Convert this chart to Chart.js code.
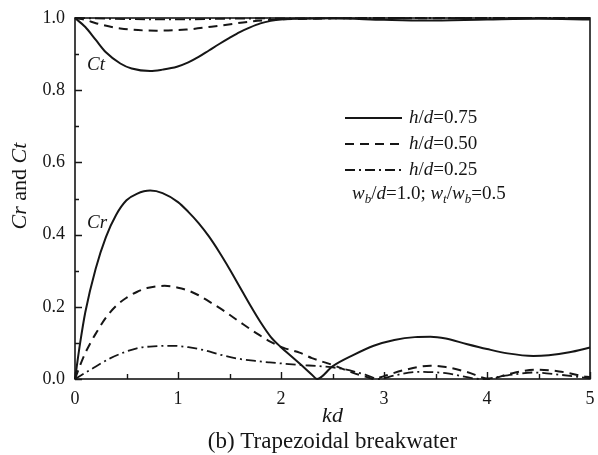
<!DOCTYPE html>
<html>
<head>
<meta charset="utf-8">
<script src="https://cdn.jsdelivr.net/npm/chart.js@4.4.1/dist/chart.umd.min.js"></script>
<style>
  html, body { margin: 0; padding: 0; background: #ffffff; }
  #wrap { width: 598px; height: 455px; position: relative; }
</style>
</head>
<body>
<div id="wrap"><canvas id="c" width="598" height="455"></canvas></div>
<script>
// Reflection coefficient Cr versus kd
const crKd075  = [0, 0.05, 0.1, 0.2, 0.3, 0.4, 0.5, 0.6, 0.73, 0.85, 1.0, 1.1, 1.2, 1.3, 1.4, 1.5, 1.6, 1.7, 1.8, 1.9, 2.0, 2.1, 2.2, 2.3, 2.35, 2.5, 2.7, 2.9, 3.1, 3.3, 3.45, 3.6, 3.8, 4.0, 4.2, 4.45, 4.6, 4.8, 5.0];
const crVal075 = [0, 0.10, 0.185, 0.305, 0.393, 0.455, 0.495, 0.513, 0.522, 0.515, 0.49, 0.463, 0.432, 0.395, 0.352, 0.305, 0.255, 0.205, 0.158, 0.117, 0.088, 0.063, 0.038, 0.012, 0, 0.035, 0.066, 0.092, 0.108, 0.116, 0.117, 0.112, 0.097, 0.083, 0.071, 0.064, 0.066, 0.074, 0.087];

const crKd050  = [0, 0.05, 0.1, 0.15, 0.2, 0.3, 0.4, 0.5, 0.6, 0.7, 0.87, 1.0, 1.1, 1.2, 1.3, 1.45, 1.6, 1.76, 1.9, 2.02, 2.18, 2.3, 2.51, 2.7, 2.85, 2.9, 3.0, 3.2, 3.45, 3.6, 3.8, 4.03, 4.2, 4.48, 4.7, 4.97, 5.0];
const crVal050 = [0, 0.038, 0.072, 0.1, 0.125, 0.17, 0.203, 0.225, 0.241, 0.252, 0.258, 0.253, 0.245, 0.232, 0.215, 0.188, 0.158, 0.127, 0.103, 0.087, 0.073, 0.058, 0.038, 0.017, 0.004, 0, 0.008, 0.025, 0.037, 0.033, 0.02, 0, 0.013, 0.026, 0.021, 0.006, 0.005];

const crKd025  = [0, 0.146, 0.34, 0.6, 0.8, 0.955, 1.1, 1.25, 1.4, 1.57, 1.75, 1.89, 2.18, 2.4, 2.6, 2.83, 2.95, 3.1, 3.35, 3.6, 3.95, 4.2, 4.45, 4.7, 5.0];
const crVal025 = [0, 0.025, 0.057, 0.085, 0.091, 0.092, 0.088, 0.08, 0.068, 0.057, 0.05, 0.046, 0.039, 0.035, 0.028, 0.011, 0, 0.01, 0.02, 0.016, 0, 0.01, 0.018, 0.012, 0.002];

// Transmission coefficient Ct versus kd
const ctKd075  = [0, 0.1, 0.2, 0.3, 0.44, 0.55, 0.73, 0.85, 0.99, 1.1, 1.2, 1.3, 1.4, 1.5, 1.6, 1.7, 1.8, 1.9, 2.0, 2.2, 2.5, 3.0, 3.4, 4.0, 4.5, 5.0];
const ctVal075 = [1.0, 0.975, 0.94, 0.905, 0.874, 0.86, 0.853, 0.857, 0.865, 0.877, 0.892, 0.91, 0.928, 0.945, 0.961, 0.974, 0.985, 0.992, 0.996, 0.998, 0.999, 0.995, 0.993, 0.996, 0.998, 0.996];

const ctKd050  = [0, 0.1, 0.21, 0.44, 0.79, 1.08, 1.41, 1.73, 2.0, 2.3, 3.0, 3.45, 4.0, 4.5, 5.0];
const ctVal050 = [1.0, 0.995, 0.985, 0.971, 0.965, 0.968, 0.979, 0.991, 0.996, 0.998, 1.0, 0.999, 1.0, 1.0, 1.0];

const ctKd025  = [0, 0.5, 0.95, 1.5, 2.0, 2.5, 3.0, 5.0];
const ctVal025 = [1.0, 0.997, 0.996, 0.998, 0.999, 0.999, 1.0, 1.0];

// Axis ticks
const xTicks = [0, 1, 2, 3, 4, 5];
const yTicks = [0.0, 0.2, 0.4, 0.6, 0.8, 1.0];

// Legend rows: relative height h/d
const seriesNames = ['h/d=0.75', 'h/d=0.50', 'h/d=0.25'];

const INK = '#161616';
const SERIF = '"Liberation Serif", "Times New Roman", serif';
const DASH_SOLID = [];
const DASH_DASHED = [9, 6];
const DASH_DOTDASH = [10, 4, 2, 4];

function pts(xs, ys) { return xs.map((x, i) => ({ x: x, y: ys[i] })); }

function curve(data, dash, width) {
  return {
    data: data,
    borderColor: INK,
    borderWidth: width,
    borderDash: dash,
    pointRadius: 0,
    fill: false,
    cubicInterpolationMode: 'monotone',
    clip: 2
  };
}

const datasets = [
  curve(pts(crKd075, crVal075), DASH_SOLID, 2),
  curve(pts(crKd050, crVal050), DASH_DASHED, 2),
  curve(pts(crKd025, crVal025), DASH_DOTDASH, 1.8),
  curve(pts(ctKd075, ctVal075), DASH_SOLID, 2),
  curve(pts(ctKd050, ctVal050), DASH_DASHED, 2),
  curve(pts(ctKd025, ctVal025), DASH_DOTDASH, 1.8)
];

// ---- mixed italic / subscript text helpers ----
function fontOf(p, size) {
  const s = p.sub ? Math.round(size * 0.68) : size;
  return (p.i ? 'italic ' : '') + s + 'px ' + SERIF;
}
function richWidth(ctx, parts, size) {
  let w = 0;
  parts.forEach(p => { ctx.font = fontOf(p, size); w += ctx.measureText(p.t).width; });
  return w;
}
function drawRich(ctx, parts, x, y, size, align) {
  const w = richWidth(ctx, parts, size);
  let cx = align === 'center' ? x - w / 2 : x;
  ctx.textAlign = 'left';
  ctx.textBaseline = 'middle';
  parts.forEach(p => {
    ctx.font = fontOf(p, size);
    ctx.fillText(p.t, cx, p.sub ? y + size * 0.28 : y);
    cx += ctx.measureText(p.t).width;
  });
}
function hd(value) {
  return [{ t: 'h', i: true }, { t: '/' }, { t: 'd', i: true }, { t: '=' + value }];
}

const decorations = {
  id: 'decorations',
  afterDatasetsDraw(chart) {
    const ctx = chart.ctx;
    const a = chart.chartArea;
    const xs = chart.scales.x, ys = chart.scales.y;
    ctx.save();
    ctx.strokeStyle = INK;
    ctx.fillStyle = INK;

    // frame
    ctx.lineWidth = 1.6;
    ctx.setLineDash([]);
    ctx.strokeRect(a.left, a.top, a.right - a.left, a.bottom - a.top);

    // inward ticks
    ctx.lineWidth = 1.4;
    ctx.beginPath();
    for (let v = 0; v <= 5.0001; v += 0.5) {
      const px = Math.round(xs.getPixelForValue(v)) + 0.5;
      const len = Math.abs(v - Math.round(v)) < 1e-6 ? 7 : 5;
      ctx.moveTo(px, a.bottom); ctx.lineTo(px, a.bottom - len);
    }
    for (let k = 0; k <= 10; k++) {
      const v = k / 10;
      const py = Math.round(ys.getPixelForValue(v)) + 0.5;
      const len = k % 2 === 0 ? 7 : 4;
      ctx.moveTo(a.left, py); ctx.lineTo(a.left + len, py);
    }
    ctx.stroke();

    // curve group labels
    drawRich(ctx, [{ t: 'Ct', i: true }], 87, 65, 19, 'left');
    drawRich(ctx, [{ t: 'Cr', i: true }], 87, 223, 19, 'left');

    // legend
    const rowsY = [118, 144, 170];
    const dashes = [DASH_SOLID, DASH_DASHED, DASH_DOTDASH];
    seriesNames.forEach((name, i) => {
      ctx.lineWidth = 2;
      ctx.setLineDash(dashes[i]);
      ctx.beginPath();
      ctx.moveTo(345, rowsY[i]);
      ctx.lineTo(402, rowsY[i]);
      ctx.stroke();
      ctx.setLineDash([]);
      drawRich(ctx, hd(name.split('=')[1]), 409, rowsY[i], 19, 'left');
    });
    drawRich(ctx, [
      { t: 'w', i: true }, { t: 'b', i: true, sub: true }, { t: '/' }, { t: 'd', i: true }, { t: '=1.0; ' },
      { t: 'w', i: true }, { t: 't', i: true, sub: true }, { t: '/' },
      { t: 'w', i: true }, { t: 'b', i: true, sub: true }, { t: '=0.5' }
    ], 352, 194, 19, 'left');

    // axis titles and caption
    drawRich(ctx, [{ t: 'kd', i: true }], (a.left + a.right) / 2, 416, 22, 'center');
    drawRich(ctx, [{ t: '(b) Trapezoidal breakwater' }], (a.left + a.right) / 2, 442, 23, 'center');
    ctx.translate(20, 186);
    ctx.rotate(-Math.PI / 2);
    drawRich(ctx, [{ t: 'Cr', i: true }, { t: ' and ' }, { t: 'Ct', i: true }], 0, 0, 22, 'center');
    ctx.restore();
  }
};

new Chart(document.getElementById('c'), {
  type: 'line',
  data: { datasets: datasets },
  options: {
    responsive: false,
    animation: false,
    devicePixelRatio: 1,
    layout: { padding: { left: 0, right: 8, top: 18, bottom: 0 }, autoPadding: false },
    plugins: { legend: { display: false }, tooltip: { enabled: false }, title: { display: false } },
    scales: {
      x: {
        type: 'linear', min: 0, max: 5,
        afterFit: s => { s.height = 76; s.paddingLeft = 0; s.paddingRight = 0; },
        afterBuildTicks: s => { s.ticks = xTicks.map(v => ({ value: v })); },
        grid: { display: false, drawTicks: false },
        border: { display: false },
        ticks: { color: INK, padding: 9, maxRotation: 0, font: { family: SERIF, size: 18 }, callback: v => String(v) }
      },
      y: {
        type: 'linear', min: 0, max: 1,
        afterFit: s => { s.width = 75; s.paddingTop = 0; s.paddingBottom = 0; },
        afterBuildTicks: s => { s.ticks = yTicks.map(v => ({ value: v })); },
        grid: { display: false, drawTicks: false },
        border: { display: false },
        ticks: { color: INK, padding: 10, font: { family: SERIF, size: 18 }, callback: v => v.toFixed(1) }
      }
    }
  },
  plugins: [decorations]
});
</script>
</body>
</html>
